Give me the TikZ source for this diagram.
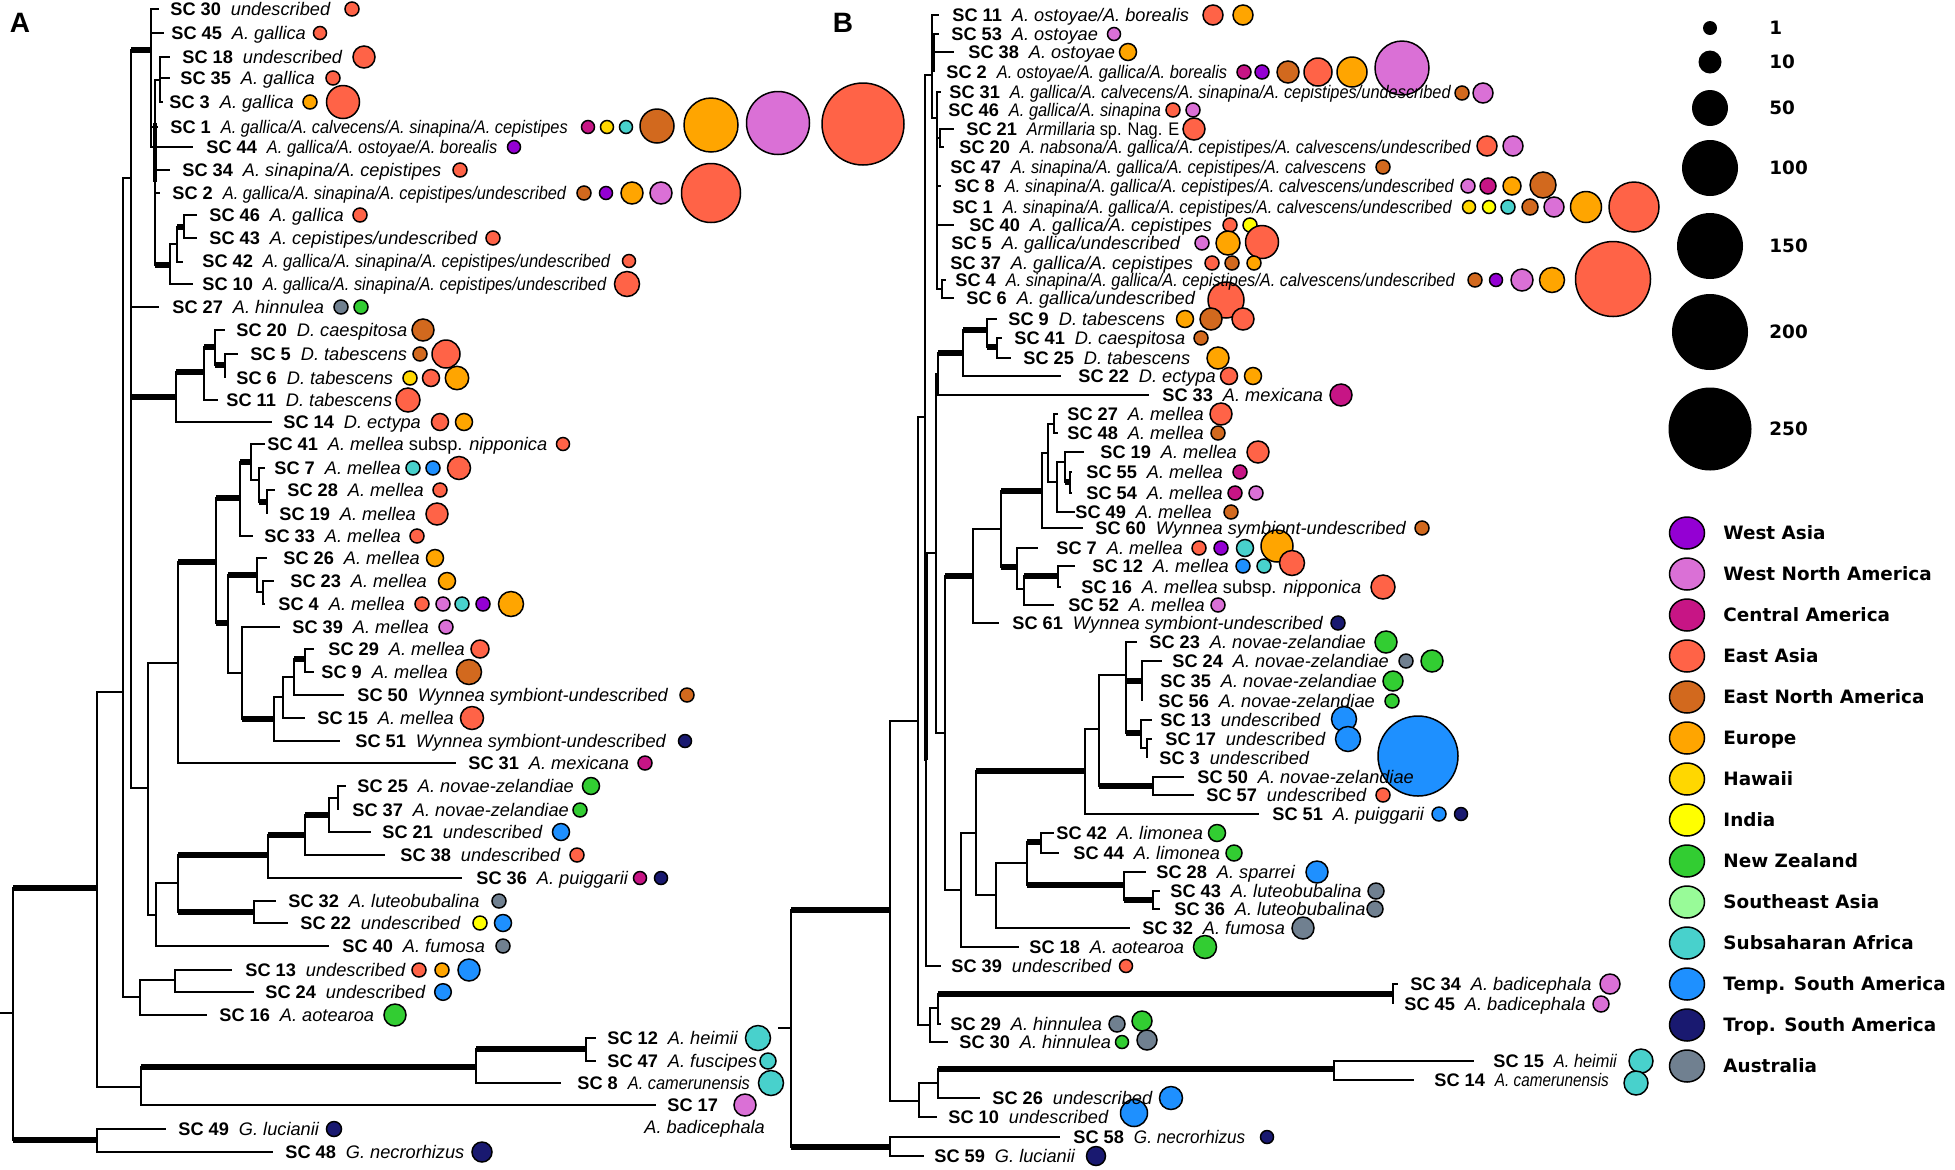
\documentclass[tikz,border=0pt]{standalone}
\usepackage{fontspec}
\usepackage{graphicx}
\setmainfont{Liberation Sans}
\newfontfamily\legfont{DejaVu Sans}
\usepackage{tikz}

% region colours
\definecolor{wa}{RGB}{148,0,211}
\definecolor{wna}{RGB}{218,112,214}
\definecolor{cam}{RGB}{199,21,133}
\definecolor{ea}{RGB}{255,99,71}
\definecolor{ena}{RGB}{210,105,30}
\definecolor{eu}{RGB}{255,165,0}
\definecolor{hw}{RGB}{255,215,0}
\definecolor{ind}{RGB}{255,255,0}
\definecolor{nz}{RGB}{50,205,50}
\definecolor{sea}{RGB}{152,251,152}
\definecolor{ssa}{RGB}{72,209,204}
\definecolor{tsa}{RGB}{30,144,255}
\definecolor{trsa}{RGB}{25,25,112}
\definecolor{aus}{RGB}{112,128,144}

\newcommand{\sclab}[3][1]{\textbf{SC #2}\hspace{5pt}\scalebox{#1}[1]{\textit{#3}}}

\tikzset{
  br/.style={line width=0.8pt},
  thk/.style={line width=2.6pt},
  dot/.style={draw=black, line width=0.75pt},
  lab/.style={anchor=west, inner sep=0pt, text height=6.5pt, text depth=0pt, font=\fontsize{9.1}{10}\selectfont},
  leg/.style={anchor=west, inner sep=0pt, text height=6.8pt, text depth=0pt, font=\legfont\bfseries\fontsize{9.2}{11}\selectfont},
  panel/.style={inner sep=0pt, font=\bfseries\fontsize{14}{16}\selectfont}
}

\begin{document}
\begin{tikzpicture}[x=0.5pt,y=0.5pt,yscale=-1,xscale=1]
\useasboundingbox (0,0) rectangle (1955,1169);

%%%%%%%%%%%%%%%% Tree A
% inner nodes and tips
\foreach \n/\x/\y in {aR/13/1013, aN2/97/888, aG/97/1140, aN3/123/692, aN4/141/1087, aN5/476/1067, aN6/586/1049,
  aN7/131/178, aN8/140/997, aN9/175/980, aN10/148/788, aN11/156/915, aN12/178/883, aN13/268/855, aN14/254/912,
  aN15/305/835, aN16/329/815, aN17/338/798, aM/178/663, aN18/216/562, aN19/228/623, aN20/240/498, aN21/251/462,
  aN22/259/480, aN23/267/502, aN24/257/575, aN25/242/673, aN26/263/592, aN27/274/719, aN28/283/697, aN29/294/677,
  aN30/305/659, aD/176/397, aN31/204/372, aN32/215/347, aN33/225/365, aGA/151/50, aG1/155/127, aG2/160/80,
  aG3/170/265, aG4/177/244, aG5/184/227,
  a30/159/9, a45/164/33, a18/170/57, a35/170/78, a3/163/102, a1/158/127, a44/193/147, a34/170/170, a2/160/193,
  a46/197/215, a43/197/238, a42/183/262, a10/193/284, a27/159/307, a20/225/330, a5/238/354, a6/225/378, a11/218/400,
  a14/272/422, a41/265/444, a7/265/468, a28/275/490, a19/267/514, a33/253/536, a26/267/558, a23/274/581, a4/265/604,
  a39/280/627, a29/314/649, a9/314/672, a50/344/695, a15/305/718, a51/340/741, a31/456/763, a25/346/786, a37/338/810,
  a21/371/832, a38/385/855, a36/462/878, a32/276/901, a22/288/923, a40/329/946, a13/232/970, a24/254/992, a16/207/1015,
  a12/596/1038, a47/596/1061, a8/561/1083, a17/656/1105, a49/166/1129, a48/273/1152}
  \coordinate (\n) at (\x,\y);

\coordinate (aStub) at (0,1013);
\draw[br] (aStub) -- (aR);
\foreach \p/\c in {aR/aN2, aR/aG, aG/a49, aG/a48, aN2/aN3, aN2/aN4, aN4/aN5, aN4/a17, aN5/aN6, aN5/a8, aN6/a12, aN6/a47,
  aN3/aN7, aN3/aN8, aN8/aN9, aN8/a16, aN9/a13, aN9/a24, aN7/aGA, aN7/a27, aN7/aD, aN7/aN10, aN10/aM, aN10/aN11,
  aN11/aN12, aN11/a40, aN12/aN13, aN12/aN14, aN14/a32, aN14/a22, aN13/aN15, aN13/a36, aN15/aN16, aN15/a38,
  aN16/aN17, aN16/a21, aN17/a25, aN17/a37, aM/aN18, aM/a31, aN18/aN20, aN18/aN19, aN20/aN21, aN20/a33,
  aN21/a41, aN21/aN22, aN22/a7, aN22/aN23, aN23/a28, aN23/a19, aN19/aN24, aN19/aN25, aN24/a26, aN24/aN26,
  aN26/a23, aN26/a4, aN25/a39, aN25/aN27, aN27/aN28, aN27/a51, aN28/aN29, aN28/a15, aN29/aN30, aN29/a50,
  aN30/a29, aN30/a9, aD/aN31, aD/a14, aN31/aN32, aN31/a11, aN32/a20, aN32/aN33, aN33/a5, aN33/a6,
  aGA/a30, aGA/a45, aGA/aG1, aGA/a44, aG1/aG2, aG1/a1, aG1/a34, aG1/a2, aG1/aG3, aG2/a18, aG2/a35, aG2/a3,
  aG3/aG4, aG3/a10, aG4/aG5, aG4/a42, aG5/a46, aG5/a43}
  \draw[br] (\p) |- (\c);
% well supported branches
\foreach \p/\c in {aR/aN2, aR/aG, aN4/aN5, aN5/aN6, aN7/aGA, aN7/aD, aN12/aN13, aN12/aN14, aN13/aN15, aN15/aN16,
  aM/aN18, aN18/aN20, aN18/aN19, aN20/aN21, aN22/aN23, aN19/aN24, aN25/aN27, aN29/aN30, aD/aN31, aN31/aN32,
  aN32/aN33, aG1/aG3, aG4/aG5}
  \draw[thk] (\p |- \c) -- (\c);
\draw[line width=1.8pt] (aG1 |- 0,123) -- (aG1 |- 0,182);

%%%%%%%%%%%%%%%% Tree B
\foreach \n/\x/\y in {bRoot/791/1028, bN1/890/910, bG/890/1147, bN2/919/1101, bN3/938/1083, bN4/1334/1069,
  bN5/918/721, bH/930/1025, bH2/938/1008, bBad/1393/994, bTA/925/417, bQ/926/760, bX/936/553, bD/938/374,
  bD2/963/353, bD3/987/330, bD4/997/347, bS/945/733, bM/973/576, bM2/1001/529, bM3/1042/491, bM4/1017/567,
  bM5/1048/453, bM6/1054/424, bM7/1057/482, bM8/1065/462, bM9/1070/482, bM10/1024/589, bM11/1058/576,
  bL/961/890, bL2/976/833, bNZ/1085/771, bNZ2/1099/729, bNZ3/1126/675, bNZ4/1153/786, bNZ5/1142/681,
  bNZ6/1141/733, bNZ8/1147/748, bL3/996/895, bL4/1027/863, bL5/1041/842, bL6/1124/885, bL7/1153/900,
  bT1/932/75, bT3/934/53, bT4/937/118, bT5/940/138, bT6/942/289,
  b11/939/15, b53/939/34, b38/954/52, b2/934/72, b31/941/92, b46/937/110, b21/954/129, b20/944/147, b47/937/167,
  b8/941/186, b1/937/207, b40/954/225, b5/937/243, b37/937/263, b4/946/280, b6/954/298, b9/997/319, b41/1002/338,
  b25/1011/358, b22/1061/376, b33/1149/395, b27/1058/414, b48/1058/433, b19/1084/452, b55/1072/472, b54/1072/493,
  b49/1075/512, b60/1083/528, b7/1038/548, b12/1075/566, b16/1061/587, b52/1054/605, b61/999/623, b23/1137/642,
  b24/1162/661, b35/1142/681, b56/1142/701, b13/1152/720, b17/1152/739, b3/1147/758, b50/1184/777, b57/1194/795,
  b51/1259/814, b42/1054/833, b44/1059/853, b28/1146/872, b43/1160/891, b36/1160/909, b32/1130/928, b18/1019/947,
  b39/941/966, b34/1398/984, b45/1393/1004, b29/941/1024, b30/948/1042, b15/1474/1061, b14/1414/1080,
  b26/980/1098, b10/937/1117, b58/1060/1137, b59/924/1156}
  \coordinate (\n) at (\x,\y);

\coordinate (bStub) at (778,1028);
\draw[br] (bStub) -- (bRoot);
\foreach \p/\c in {bRoot/bN1, bRoot/bG, bG/b58, bG/b59, bN1/bN5, bN1/bN2, bN2/bN3, bN2/b10, bN3/bN4, bN3/b26,
  bN4/b15, bN4/b14, bN5/bTA, bN5/bH, bH/bH2, bH/b30, bH2/bBad, bH2/b29, bBad/b34, bBad/b45, bTA/bT1, bTA/bQ,
  bQ/bX, bQ/b39, bX/bD, bX/bS, bD/bD2, bD/b33, bD2/bD3, bD2/b22, bD3/b9, bD3/bD4, bD4/b41, bD4/b25, bS/bM, bS/bL,
  bM/bM2, bM/b61, bM2/bM3, bM2/bM4, bM3/bM5, bM3/b60, bM5/bM6, bM5/bM7, bM6/b27, bM6/b48, bM7/bM8, bM7/b49,
  bM8/b19, bM8/bM9, bM9/b55, bM9/b54, bM4/b7, bM4/bM10, bM10/bM11, bM10/b52, bM11/b12, bM11/b16, bL/bL2, bL/b18,
  bL2/bNZ, bL2/bL3, bNZ/bNZ2, bNZ/b51, bNZ2/bNZ3, bNZ2/bNZ4, bNZ4/b50, bNZ4/b57, bNZ3/b23, bNZ3/bNZ5, bNZ3/bNZ6,
  bNZ5/b24, bNZ5/b35, bNZ5/b56, bNZ6/b13, bNZ6/bNZ8, bNZ8/b17, bNZ8/b3, bL3/bL4, bL3/b32, bL4/bL5, bL4/bL6,
  bL5/b42, bL5/b44, bL6/b28, bL6/bL7, bL7/b43, bL7/b36, bT1/b11, bT1/bT3, bT1/bT4, bT3/b53, bT3/b38, bT3/b2,
  bT4/b31, bT4/b46, bT4/bT5, bT4/b47, bT4/b8, bT4/b1, bT4/b40, bT4/b5, bT4/b37, bT4/bT6, bT5/b21, bT5/b20,
  bT6/b4, bT6/b6}
  \draw[br] (\p) |- (\c);
\foreach \p/\c in {bRoot/bN1, bRoot/bG, bN3/bN4, bH2/bBad, bD/bD2, bD2/bD3, bD3/bD4, bS/bM, bM2/bM3, bM2/bM4,
  bM8/bM9, bM10/bM11, bL2/bNZ, bNZ2/bNZ4, bNZ3/bNZ5, bNZ3/bNZ6, bL4/bL5, bL4/bL6, bL6/bL7}
  \draw[thk] (\p |- \c) -- (\c);
\draw[line width=1.6pt] (bQ |- bX) -- (bQ);

%%%%%%%%%%%%%%%% Circles (number of samples per region)
\foreach \c/\x/\y/\r in {ea/352/9/7, ea/320/33/6.5, ea/364/57/11, ea/333/78/7, eu/310/102/7, ea/343/102/16.5,
  cam/588/127/6.5, hw/607/127/6.5, ssa/626/127/6.5, ena/657/126/17, eu/711/125/27, wna/778/123/31.5, ea/863/124/41,
  wa/514/147/6.5, ea/460/170/7, ena/584/193/7, wa/606/193/6.5, eu/632/193/11, wna/661/193/11, ea/711/193/29.5,
  ea/360/215/7, ea/493/238/7, ea/629/261/6.5, ea/627/284/12.5, aus/341/307/7, nz/361/307/7, ena/423/330/11,
  ena/420/354/7, ea/446/354/14, hw/410/378/7, ea/431/378/8.5, eu/457/378/11.7, ea/408/400/12, ea/440/422/8.5,
  eu/464/422/8.5, ea/563/444/6.5, ssa/413/468/7, tsa/433/468/7, ea/459/468/11.5, ea/440/490/7, ea/437/514/11,
  ea/417/536/7, eu/435/558/8.5, eu/447/581/8.5, ea/422/604/7, wna/443/604/7, ssa/462/604/7, wa/483/604/7,
  eu/511/604/12.5, wna/446/627/7, ea/480/649/9, ena/469/672/12.5, ena/687/695/7, ea/472/718/11.5, trsa/685/741/6.5,
  cam/645/763/7, nz/591/786/8.5, nz/580/810/7, tsa/561/832/8.5, ea/577/855/7, cam/640/878/6.5, trsa/661/878/6.5,
  aus/499/901/7, ind/480/923/7, tsa/503/923/8.5, aus/503/946/7, ea/419/970/7, eu/442/970/7, tsa/469/970/11,
  tsa/443/992/8.3, nz/395/1015/11, ssa/758/1038/12.5, ssa/768/1061/8, ssa/771/1083/12.5, wna/745/1105/11,
  trsa/334/1129/7.5, trsa/482/1152/10}
  \draw[dot, fill=\c] (\x,\y) circle[radius=\r];

\foreach \c/\x/\y/\r in {ea/1213/15/10, eu/1243/15/10, wna/1114/34/6.5, eu/1128/52/8.5, cam/1244/72/7, wa/1262/72/7,
  ena/1288/72/11, ea/1318/72/14, eu/1352/72/15, wna/1402/68/27, ena/1462/93/7, wna/1483/93/10, ea/1173/110/7,
  wna/1193/110/7, ea/1194/129/11, ea/1487/146/10, wna/1513/146/10, ena/1383/167/7, wna/1468/186/7, cam/1488/186/8,
  eu/1512/186/9, ena/1543/185/13, hw/1469/207/6.5, ind/1489/207/6.5, ssa/1508/207/7, ena/1530/207/8,
  wna/1554/207/10, eu/1586/207/15.5, ea/1634/207/25, ea/1230/225/7, ind/1250/225/7, wna/1202/243/7,
  eu/1228/243/12, ea/1262/242/16.5, ea/1212/263/7, ena/1232/263/7, eu/1254/263/7, ena/1475/280/7,
  wa/1496/280/6.5, wna/1522/280/11, eu/1552/280/12.5, ea/1613/279/37.5, ea/1226/300/18, eu/1185/319/8.5,
  ena/1211/319/11, ea/1243/319/11, ena/1201/338/7, eu/1218/358/11, ea/1229/376/8.5, eu/1253/376/8.5,
  cam/1341/395/11, ea/1221/414/11, ena/1218/433/7, ea/1258/452/11, cam/1240/472/7, cam/1235/493/7,
  wna/1256/493/7, ena/1231/512/7, ena/1422/528/7, ea/1199/548/7, wa/1221/548/7, ssa/1245/548/8.5,
  eu/1277/546/16, tsa/1243/566/7, ssa/1264/566/7, ea/1292/563/12.5, ea/1383/587/12, wna/1218/605/7,
  trsa/1338/623/7, nz/1386/642/11, aus/1406/661/7, nz/1432/661/11, nz/1393/681/10, nz/1392/701/7,
  tsa/1344/719/12.5, tsa/1348/739/12.5, tsa/1418/756/40, ea/1383/795/7, tsa/1439/814/7, trsa/1461/814/6.5,
  nz/1217/833/8.5, nz/1234/853/8, tsa/1317/872/11, aus/1376/891/8, aus/1375/909/8, aus/1303/928/11,
  nz/1205/947/11.5, ea/1126/966/6.5, wna/1610/984/10, wna/1601/1004/8, aus/1117/1024/8, nz/1142/1021/10,
  nz/1122/1042/6.5, aus/1147/1040/10, ssa/1641/1061/12, ssa/1636/1083/12, tsa/1171/1098/11.5,
  tsa/1134/1113/13.5, trsa/1267/1137/6.5, trsa/1096/1156/9.5}
  \draw[dot, fill=\c] (\x,\y) circle[radius=\r];

%%%%%%%%%%%%%%%% Tip labels A
\node[panel] (pA) at (20,23) {A};
\node[lab] (a30t) at (170,9) {\sclab{30}{undescribed}};
\node[lab] (a45t) at (171,33) {\sclab{45}{A. gallica}};
\node[lab] (a18t) at (182,57) {\sclab{18}{undescribed}};
\node[lab] (a35t) at (180,78) {\sclab{35}{A. gallica}};
\node[lab] (a3t) at (169,102) {\sclab{3}{A. gallica}};
\node[lab] (a1t) at (170,127) {\sclab[0.9]{1}{A. gallica/A. calvecens/A. sinapina/A. cepistipes}};
\node[lab] (a44t) at (206,147) {\sclab[0.9]{44}{A. gallica/A. ostoyae/A. borealis}};
\node[lab] (a34t) at (182,170) {\sclab{34}{A. sinapina/A. cepistipes}};
\node[lab] (a2t) at (172,193) {\sclab[0.9]{2}{A. gallica/A. sinapina/A. cepistipes/undescribed}};
\node[lab] (a46t) at (209,215) {\sclab{46}{A. gallica}};
\node[lab] (a43t) at (209,238) {\sclab{43}{A. cepistipes/undescribed}};
\node[lab] (a42t) at (202,261) {\sclab[0.91]{42}{A. gallica/A. sinapina/A. cepistipes/undescribed}};
\node[lab] (a10t) at (202,284) {\sclab[0.9]{10}{A. gallica/A. sinapina/A. cepistipes/undescribed}};
\node[lab] (a27t) at (172,307) {\sclab{27}{A. hinnulea}};
\node[lab] (a20t) at (236,330) {\sclab{20}{D. caespitosa}};
\node[lab] (a5t) at (250,354) {\sclab{5}{D. tabescens}};
\node[lab] (a6t) at (236,378) {\sclab{6}{D. tabescens}};
\node[lab] (a11t) at (226,400) {\sclab{11}{D. tabescens}};
\node[lab] (a14t) at (283,422) {\sclab{14}{D. ectypa}};
\node[lab] (a41t) at (267,444) {\sclab{41}{A. mellea\/ \upshape subsp. \itshape nipponica}};
\node[lab] (a7t) at (274,468) {\sclab{7}{A. mellea}};
\node[lab] (a28t) at (287,490) {\sclab{28}{A. mellea}};
\node[lab] (a19t) at (279,514) {\sclab{19}{A. mellea}};
\node[lab] (a33t) at (264,536) {\sclab{33}{A. mellea}};
\node[lab] (a26t) at (283,558) {\sclab{26}{A. mellea}};
\node[lab] (a23t) at (290,581) {\sclab{23}{A. mellea}};
\node[lab] (a4t) at (278,604) {\sclab{4}{A. mellea}};
\node[lab] (a39t) at (292,627) {\sclab{39}{A. mellea}};
\node[lab] (a29t) at (328,649) {\sclab{29}{A. mellea}};
\node[lab] (a9t) at (321,672) {\sclab{9}{A. mellea}};
\node[lab] (a50t) at (357,695) {\sclab{50}{Wynnea symbiont-undescribed}};
\node[lab] (a15t) at (317,718) {\sclab{15}{A. mellea}};
\node[lab] (a51t) at (355,741) {\sclab{51}{Wynnea symbiont-undescribed}};
\node[lab] (a31t) at (468,763) {\sclab{31}{A. mexicana}};
\node[lab] (a25t) at (357,786) {\sclab{25}{A. novae-zelandiae}};
\node[lab] (a37t) at (352,810) {\sclab{37}{A. novae-zelandiae}};
\node[lab] (a21t) at (382,832) {\sclab{21}{undescribed}};
\node[lab] (a38t) at (400,855) {\sclab{38}{undescribed}};
\node[lab] (a36t) at (476,878) {\sclab{36}{A. puiggarii}};
\node[lab] (a32t) at (288,901) {\sclab{32}{A. luteobubalina}};
\node[lab] (a22t) at (300,923) {\sclab{22}{undescribed}};
\node[lab] (a40t) at (342,946) {\sclab{40}{A. fumosa}};
\node[lab] (a13t) at (245,970) {\sclab{13}{undescribed}};
\node[lab] (a24t) at (265,992) {\sclab{24}{undescribed}};
\node[lab] (a16t) at (219,1015) {\sclab{16}{A. aotearoa}};
\node[lab] (a12t) at (607,1038) {\sclab{12}{A. heimii}};
\node[lab] (a47t) at (607,1061) {\sclab{47}{A. fuscipes}};
\node[lab] (a8t) at (577,1083) {\sclab[0.9]{8}{A. camerunensis}};
\node[lab] (a17t) at (667,1105) {\textbf{SC 17}};
\node[lab] (a17s) at (644,1127) {\textit{A. badicephala}};
\node[lab] (a49t) at (178,1129) {\sclab{49}{G. lucianii}};
\node[lab] (a48t) at (285,1152) {\sclab{48}{G. necrorhizus}};

%%%%%%%%%%%%%%%% Tip labels B
\node[panel] (pB) at (843,23) {B};
\node[lab] (b11t) at (952,15) {\sclab{11}{A. ostoyae/A. borealis}};
\node[lab] (b53t) at (951,34) {\sclab{53}{A. ostoyae}};
\node[lab] (b38t) at (968,52) {\sclab{38}{A. ostoyae}};
\node[lab] (b2t) at (946,72) {\sclab[0.9]{2}{A. ostoyae/A. gallica/A. borealis}};
\node[lab] (b31t) at (949,92) {\sclab[0.9]{31}{A. gallica/A. calvecens/A. sinapina/A. cepistipes/undescribed}};
\node[lab] (b46t) at (948,110) {\sclab[0.9]{46}{A. gallica/A. sinapina}};
\node[lab] (b21t) at (966,129) {\sclab[0.9]{21}{Armillaria\/ \upshape sp. Nag. E}};
\node[lab] (b20t) at (959,147) {\sclab[0.9]{20}{A. nabsona/A. gallica/A. cepistipes/A. calvescens/undescribed}};
\node[lab] (b47t) at (950,167) {\sclab[0.9]{47}{A. sinapina/A. gallica/A. cepistipes/A. calvescens}};
\node[lab] (b8t) at (954,186) {\sclab[0.9]{8}{A. sinapina/A. gallica/A. cepistipes/A. calvescens/undescribed}};
\node[lab] (b1t) at (952,207) {\sclab[0.9]{1}{A. sinapina/A. gallica/A. cepistipes/A. calvescens/undescribed}};
\node[lab] (b40t) at (969,225) {\sclab{40}{A. gallica/A. cepistipes}};
\node[lab] (b5t) at (951,243) {\sclab{5}{A. gallica/undescribed}};
\node[lab] (b37t) at (950,263) {\sclab{37}{A. gallica/A. cepistipes}};
\node[lab] (b4t) at (955,280) {\sclab[0.9]{4}{A. sinapina/A. gallica/A. cepistipes/A. calvescens/undescribed}};
\node[lab] (b6t) at (966,298) {\sclab{6}{A. gallica/undescribed}};
\node[lab] (b9t) at (1008,319) {\sclab{9}{D. tabescens}};
\node[lab] (b41t) at (1014,338) {\sclab{41}{D. caespitosa}};
\node[lab] (b25t) at (1023,358) {\sclab{25}{D. tabescens}};
\node[lab] (b22t) at (1078,376) {\sclab{22}{D. ectypa}};
\node[lab] (b33t) at (1162,395) {\sclab{33}{A. mexicana}};
\node[lab] (b27t) at (1067,414) {\sclab{27}{A. mellea}};
\node[lab] (b48t) at (1067,433) {\sclab{48}{A. mellea}};
\node[lab] (b19t) at (1100,452) {\sclab{19}{A. mellea}};
\node[lab] (b55t) at (1086,472) {\sclab{55}{A. mellea}};
\node[lab] (b54t) at (1086,493) {\sclab{54}{A. mellea}};
\node[lab] (b49t) at (1075,512) {\sclab{49}{A. mellea}};
\node[lab] (b60t) at (1095,528) {\sclab{60}{Wynnea symbiont-undescribed}};
\node[lab] (b7t) at (1056,548) {\sclab{7}{A. mellea}};
\node[lab] (b12t) at (1092,566) {\sclab{12}{A. mellea}};
\node[lab] (b16t) at (1081,587) {\sclab{16}{A. mellea\/ \upshape subsp. \itshape nipponica}};
\node[lab] (b52t) at (1068,605) {\sclab{52}{A. mellea}};
\node[lab] (b61t) at (1012,623) {\sclab{61}{Wynnea symbiont-undescribed}};
\node[lab] (b23t) at (1149,642) {\sclab{23}{A. novae-zelandiae}};
\node[lab] (b24t) at (1172,661) {\sclab{24}{A. novae-zelandiae}};
\node[lab] (b35t) at (1160,681) {\sclab{35}{A. novae-zelandiae}};
\node[lab] (b56t) at (1158,701) {\sclab{56}{A. novae-zelandiae}};
\node[lab] (b13t) at (1160,720) {\sclab{13}{undescribed}};
\node[lab] (b17t) at (1165,739) {\sclab{17}{undescribed}};
\node[lab] (b3t) at (1159,758) {\sclab{3}{undescribed}};
\node[lab] (b50t) at (1197,777) {\sclab{50}{A. novae-zelandiae}};
\node[lab] (b57t) at (1206,795) {\sclab{57}{undescribed}};
\node[lab] (b51t) at (1272,814) {\sclab{51}{A. puiggarii}};
\node[lab] (b42t) at (1056,833) {\sclab{42}{A. limonea}};
\node[lab] (b44t) at (1073,853) {\sclab{44}{A. limonea}};
\node[lab] (b28t) at (1156,872) {\sclab{28}{A. sparrei}};
\node[lab] (b43t) at (1170,891) {\sclab{43}{A. luteobubalina}};
\node[lab] (b36t) at (1174,909) {\sclab{36}{A. luteobubalina}};
\node[lab] (b32t) at (1142,928) {\sclab{32}{A. fumosa}};
\node[lab] (b18t) at (1029,947) {\sclab{18}{A. aotearoa}};
\node[lab] (b39t) at (951,966) {\sclab{39}{undescribed}};
\node[lab] (b34t) at (1410,984) {\sclab{34}{A. badicephala}};
\node[lab] (b45t) at (1404,1004) {\sclab{45}{A. badicephala}};
\node[lab] (b29t) at (950,1024) {\sclab{29}{A. hinnulea}};
\node[lab] (b30t) at (959,1042) {\sclab{30}{A. hinnulea}};
\node[lab] (b15t) at (1493,1061) {\sclab[0.9]{15}{A. heimii}};
\node[lab] (b14t) at (1434,1080) {\sclab[0.84]{14}{A. camerunensis}};
\node[lab] (b26t) at (992,1098) {\sclab{26}{undescribed}};
\node[lab] (b10t) at (948,1117) {\sclab{10}{undescribed}};
\node[lab] (b58t) at (1073,1137) {\sclab[0.94]{58}{G. necrorhizus}};
\node[lab] (b59t) at (934,1156) {\sclab{59}{G. lucianii}};

%%%%%%%%%%%%%%%% Legend
% circle size
\foreach \y/\r/\t in {28/7/1, 62/11.5/10, 108/18/50, 168/28/100, 246/33/150, 332/38/200, 429/41.5/250}
  \fill (1710,\y) circle[radius=\r] node[leg] (size\t) at (1769,\y) {\t};
% regions
\foreach \c/\t [count=\i from 0] in {wa/West Asia, wna/West North America, cam/Central America, ea/East Asia,
  ena/East North America, eu/Europe, hw/Hawaii, ind/India, nz/New Zealand, sea/Southeast Asia,
  ssa/Subsaharan Africa, tsa/Temp. South America, trsa/Trop. South America, aus/Australia}
{
  \draw[dot, fill=\c] (1687,{533+41*\i}) circle[x radius=17.5, y radius=16];
  \node[leg] (reg\i) at (1723,{533+41*\i}) {\t};
}

\end{tikzpicture}
\end{document}
